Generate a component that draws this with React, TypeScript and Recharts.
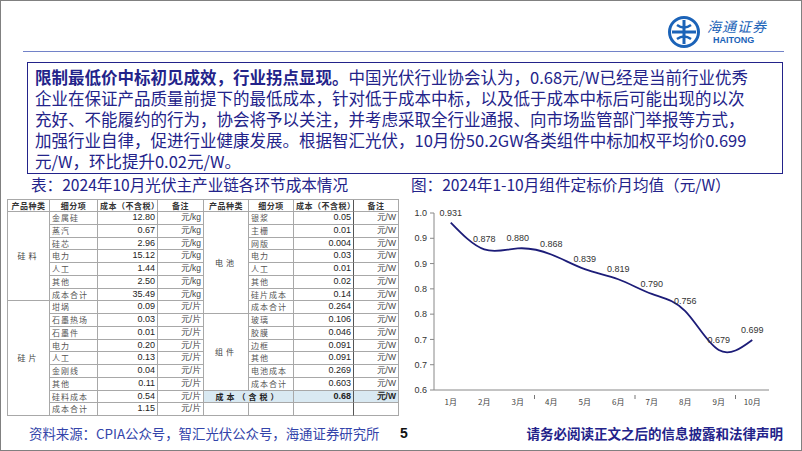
import { LineChart, Line, XAxis, YAxis, LabelList } from 'recharts'

const months = ['1月', '2月', '3月', '4月', '5月', '6月', '7月', '8月', '9月', '10月']
const prices = [0.931, 0.878, 0.880, 0.868, 0.839, 0.819, 0.790, 0.756, 0.679, 0.699]
const yTicks = [0.6, 0.65, 0.7, 0.75, 0.8, 0.85, 0.9, 0.95]
const yTickLabels = ['0.6', '0.7', '0.7', '0.8', '0.8', '0.9', '0.9', '1.0']

const siliconItems = ['金属硅', '蒸汽', '硅芯', '电力', '人工', '其他', '成本合计']
const siliconCosts = ['12.80', '0.67', '2.96', '15.12', '1.44', '2.50', '35.49']
const waferItems = ['坩埚', '石墨热场', '石墨件', '电力', '人工', '金刚线', '其他', '硅料成本', '成本合计']
const waferCosts = ['0.09', '0.03', '0.01', '0.20', '0.13', '0.04', '0.11', '0.54', '1.15']
const cellItems = ['银浆', '主栅', '网版', '电力', '人工', '其他', '硅片成本', '成本合计']
const cellCosts = ['0.05', '0.01', '0.004', '0.03', '0.01', '0.02', '0.14', '0.264']
const moduleItems = ['玻璃', '胶膜', '边框', '其他', '电池成本', '成本合计']
const moduleCosts = ['0.106', '0.046', '0.091', '0.091', '0.269', '0.603']
const headers = ['产品种类', '细分项', '成本（不含税）', '备注', '产品种类', '细分项', '成本（不含税）', '备注']

const navy = '#23238a'
const cjk = '"Noto Sans CJK SC", "Noto Sans", sans-serif'
const latin = '"Liberation Sans", Arial, sans-serif'
const gridColor = '#a8a8a8'

// table geometry
const colX = [7, 49, 97, 157, 203, 248, 293, 353, 398]
const tableTop = 199
const headH = 12
const rowH = 12.75

const chartData = months.map((m, i) => ({ month: m, price: prices[i] }))

type Kind = 'head' | 'group' | 'item' | 'num' | 'unit' | 'blank'

function Cell({ c0, c1, r0, r1, kind, text, hl }: { c0: number; c1: number; r0: number; r1: number; kind: Kind; text?: string; hl?: boolean }) {
  const y0 = r0 < 0 ? tableTop : tableTop + headH + r0 * rowH
  const y1 = tableTop + headH + r1 * rowH
  const h = r0 < 0 ? headH : y1 - y0
  const base: React.CSSProperties = {
    position: 'absolute',
    left: colX[c0],
    top: y0,
    width: colX[c1] - colX[c0],
    height: h,
    boxSizing: 'border-box',
    borderRight: `${c1 === 7 ? 1.5 : 1}px solid ${c1 === 7 ? '#555' : gridColor}`,
    borderBottom: `1px solid ${gridColor}`,
    lineHeight: `${h - 1}px`,
    whiteSpace: 'nowrap',
    overflow: 'hidden',
    padding: '0 2px',
    fontSize: 8,
    background: hl ? '#d9e9f2' : undefined,
  }
  const styles: Record<Kind, React.CSSProperties> = {
    head: { fontFamily: cjk, fontWeight: 700, color: '#333', textAlign: 'center', letterSpacing: 0.5 },
    group: { fontFamily: cjk, color: '#444', textAlign: 'center', letterSpacing: 3 },
    item: { fontFamily: cjk, color: '#555', letterSpacing: 1 },
    num: { fontFamily: latin, color: '#222', textAlign: 'right', fontSize: 9 },
    unit: { fontFamily: latin, color: '#444', textAlign: 'right', fontSize: 8.5 },
    blank: {},
  }
  return <div style={{ ...base, ...styles[kind], ...(hl ? { fontWeight: 700, color: '#222' } : {}) }}>{text}</div>
}

function CostTable() {
  const cells: any[] = []
  headers.forEach((h, i) => cells.push({ c0: i, c1: i + 1, r0: -1, r1: 0, kind: 'head', text: h }))
  const addBlock = (col: number, start: number, name: string, items: string[], costs: string[], unit: string) => {
    cells.push({ c0: col, c1: col + 1, r0: start, r1: start + items.length, kind: 'group', text: name })
    items.forEach((it, i) => {
      cells.push({ c0: col + 1, c1: col + 2, r0: start + i, r1: start + i + 1, kind: 'item', text: it })
      cells.push({ c0: col + 2, c1: col + 3, r0: start + i, r1: start + i + 1, kind: 'num', text: costs[i] })
      cells.push({ c0: col + 3, c1: col + 4, r0: start + i, r1: start + i + 1, kind: 'unit', text: unit })
    })
  }
  addBlock(0, 0, '硅料', siliconItems, siliconCosts, '元/kg')
  addBlock(0, siliconItems.length, '硅片', waferItems, waferCosts, '元/片')
  addBlock(4, 0, '电池', cellItems, cellCosts, '元/W')
  addBlock(4, cellItems.length, '组件', moduleItems, moduleCosts, '元/W')
  cells.push({ c0: 4, c1: 6, r0: 14, r1: 15, kind: 'group', text: '成本（含税）', hl: true })
  cells.push({ c0: 6, c1: 7, r0: 14, r1: 15, kind: 'num', text: '0.68', hl: true })
  cells.push({ c0: 7, c1: 8, r0: 14, r1: 15, kind: 'unit', text: '元/W', hl: true })
  for (let c = 4; c < 8; c++) cells.push({ c0: c, c1: c + 1, r0: 15, r1: 16, kind: 'blank' })
  const bottom = tableTop + headH + 16 * rowH
  return (
    <>
      <div style={{ position: 'absolute', left: colX[0] - 1, top: tableTop - 1, width: colX[8] - colX[0] + 1, height: 1, background: gridColor }} />
      <div style={{ position: 'absolute', left: colX[0] - 1, top: tableTop - 1, width: 1, height: bottom - tableTop + 1, background: gridColor }} />
      {cells.map((c, i) => <Cell key={i} {...c} />)}
    </>
  )
}

const plotW = 335
const band = plotW / months.length

function MonthTick({ x, y, payload, index }: any) {
  return (
    <g>
      <text x={x} y={y + 7} textAnchor="middle" fontSize={8} fill="#444" fontFamily={cjk}>{payload.value}</text>
      {index > 0 && index % 3 === 0 && (
        <line x1={x - band / 2} x2={x - band / 2} y1={y - 3} y2={y + 1} stroke="#777" />
      )}
    </g>
  )
}

function Logo() {
  return (
    <div style={{ position: 'absolute', left: 666, top: 14 }}>
      <svg width={34} height={34} viewBox="0 0 34 34">
        <circle cx={17} cy={17} r={14.5} fill="none" stroke="#1b63b8" strokeWidth={3} />
        <path d="M17 5 V29 M5 17 H29" stroke="#1b63b8" strokeWidth={3} />
        <path d="M10 10 Q17 15 24 10 M10 24 Q17 19 24 24" stroke="#1b63b8" strokeWidth={2.5} fill="none" />
      </svg>
      <div style={{ position: 'absolute', left: 40, top: 4, fontFamily: cjk, fontStyle: 'italic', fontSize: 14, lineHeight: '14px', color: '#1b63b8', whiteSpace: 'nowrap', letterSpacing: 1 }}>海通证券</div>
      <div style={{ position: 'absolute', left: 46, top: 21, fontFamily: latin, fontWeight: 700, fontSize: 9, lineHeight: '9px', color: '#1b63b8' }}>HAITONG</div>
    </div>
  )
}

export default function App() {
  const lines = [
    <><b>限制最低价中标初见成效，行业拐点显现。</b>中国光伏行业协会认为，0.68元/W已经是当前行业优秀</>,
    <>企业在保证产品质量前提下的最低成本，针对低于成本中标，以及低于成本中标后可能出现的以次</>,
    <>充好、不能履约的行为，协会将予以关注，并考虑采取全行业通报、向市场监管部门举报等方式，</>,
    <>加强行业自律，促进行业健康发展。根据智汇光伏，10月份50.2GW各类组件中标加权平均价0.699</>,
    <>元/W，环比提升0.02元/W。</>,
  ]
  return (
    <div style={{ position: 'relative', width: 800, height: 449, border: '1px solid #808080', background: '#fff', overflow: 'hidden', fontFamily: cjk }}>
      <style>{'body{margin:0}'}</style>
      <Logo />
      <div style={{ position: 'absolute', left: 22, top: 50, width: 761, height: 1, background: '#7282c8' }} />

      <div style={{ position: 'absolute', left: 26, top: 61, width: 754, height: 110, border: `1px solid ${navy}` }}>
        {lines.map((ln, i) => (
          <div key={i} style={{ position: 'absolute', left: 7, top: 5 + i * 21, fontSize: 16.5, lineHeight: '19px', color: navy, whiteSpace: 'nowrap' }}>{ln}</div>
        ))}
      </div>

      <div style={{ position: 'absolute', left: 30, top: 174, fontSize: 15.6, lineHeight: '19px', color: navy, whiteSpace: 'nowrap' }}>表：2024年10月光伏主产业链各环节成本情况</div>
      <div style={{ position: 'absolute', left: 410, top: 174, fontSize: 15.6, lineHeight: '19px', color: navy, whiteSpace: 'nowrap' }}>图：2024年1-10月组件定标价月均值（元/W）</div>

      <CostTable />

      <div style={{ position: 'absolute', left: 400, top: 200 }}>
        <LineChart width={380} height={214} data={chartData} margin={{ top: 12, right: 12, bottom: 5, left: 0 }}>
          <XAxis dataKey="month" interval={0} padding={{ left: band / 2, right: band / 2 }} axisLine={{ stroke: '#888' }} tickLine={false} tick={<MonthTick />} height={20} />
          <YAxis
            width={33}
            domain={[0.6, 0.95]}
            ticks={yTicks}
            tickFormatter={(v: number, i: number) => yTickLabels[i]}
            tick={{ fontSize: 9, fill: '#333', fontFamily: latin }}
            axisLine={{ stroke: '#888' }}
            tickLine={{ stroke: '#888' }}
            tickSize={4}
            tickMargin={3}
            allowDataOverflow
          />
          <Line type="natural" dataKey="price" stroke="#1c1c78" strokeWidth={1.8} dot={false} isAnimationActive={false}>
            <LabelList dataKey="price" position="top" offset={7} fontSize={9} fill="#333" fontFamily={latin} formatter={(v: any) => Number(v).toFixed(3)} />
          </Line>
        </LineChart>
      </div>

      <div style={{ position: 'absolute', left: 28, top: 424, fontSize: 13.4, lineHeight: '17px', color: '#3344aa', whiteSpace: 'nowrap' }}>资料来源：CPIA公众号，智汇光伏公众号，海通证券研究所</div>
      <div style={{ position: 'absolute', left: 399, top: 424, fontSize: 14, lineHeight: '17px', fontWeight: 700, color: '#111', fontFamily: latin }}>5</div>
      <div style={{ position: 'absolute', right: 18, top: 424, fontSize: 13.5, lineHeight: '17px', fontWeight: 700, color: navy, whiteSpace: 'nowrap' }}>请务必阅读正文之后的信息披露和法律声明</div>
    </div>
  )
}
